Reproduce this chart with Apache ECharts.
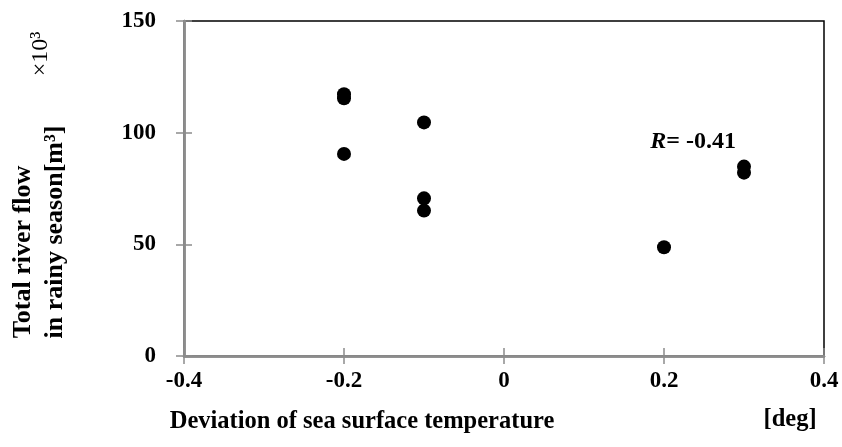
<!DOCTYPE html>
<html>
<head>
<meta charset="utf-8">
<script src="https://cdn.jsdelivr.net/npm/echarts@6/dist/echarts.min.js"></script>
<style>
  html, body { margin: 0; padding: 0; background: #fff; }
  #chart { width: 842px; height: 447px; }
</style>
</head>
<body>
<div id="chart"></div>
<script>
// 数据
var sstDev = [-0.2, -0.2, -0.2, -0.1, -0.1, -0.1, 0.2, 0.3, 0.3];
var riverFlow = [117.2, 115.4, 90.5, 104.6, 70.6, 65.1, 48.7, 84.8, 82.1];
var xTicks = [-0.4, -0.2, 0, 0.2, 0.4];
var yTicks = [0, 50, 100, 150];
var rText = '-0.41';

var chart = echarts.init(document.getElementById('chart'));
var font = 'Liberation Serif';
var axisGray = '#8c8c8c';

var points = sstDev.map(function (x, i) { return [x, riverFlow[i]]; });

// 坐标轴公共样式（内外两条叠加，刻度线穿过轴线）
function xAx(inside, showLabel) {
    return {
        type: 'value', min: xTicks[0], max: xTicks[xTicks.length - 1], interval: 0.2,
        position: 'bottom',
        axisLine: { show: true, onZero: false, lineStyle: { color: axisGray, width: 2.5 } },
        axisTick: { show: true, inside: inside, length: 8, lineStyle: { color: axisGray, width: 1.5 } },
        axisLabel: {
            show: showLabel, margin: 14, color: '#000', fontFamily: font, fontWeight: 'bold', fontSize: 23,
            formatter: function (v) { return String(Math.round(v * 10) / 10); }
        },
        splitLine: { show: false }
    };
}
function yAx(inside, showLabel) {
    return {
        type: 'value', min: yTicks[0], max: yTicks[yTicks.length - 1], interval: 50,
        position: 'left',
        axisLine: { show: true, onZero: false, lineStyle: { color: axisGray, width: 2.5 } },
        axisTick: { show: true, inside: inside, length: 8, lineStyle: { color: axisGray, width: 1.5 } },
        axisLabel: { show: showLabel, margin: 28, color: '#000', fontFamily: font, fontWeight: 'bold', fontSize: 23 },
        splitLine: { show: false }
    };
}

var option = {
    backgroundColor: '#fff',
    animation: false,
    grid: {
        left: 184, right: 18, top: 21, bottom: 91,
        show: true, borderColor: '#000', borderWidth: 1.5
    },
    xAxis: [xAx(false, true), xAx(true, false)],
    yAxis: [yAx(false, true), yAx(true, false)],
    series: [{
        type: 'scatter',
        symbol: 'circle',
        symbolSize: 14,
        itemStyle: { color: '#000', opacity: 1 },
        data: points
    }],
    graphic: [
        {
            type: 'text', x: 23, y: 252, rotation: Math.PI / 2,
            style: {
                text: 'Total river flow', fill: '#000', font: 'bold 26px "Liberation Serif"',
                align: 'center', verticalAlign: 'middle'
            }
        },
        {
            type: 'text', x: 55, y: 232, rotation: Math.PI / 2,
            style: {
                text: 'in rainy season[m³]', fill: '#000', font: 'bold 26px "Liberation Serif"',
                align: 'center', verticalAlign: 'middle'
            }
        },
        {
            type: 'text', x: 41, y: 54, rotation: Math.PI / 2,
            style: {
                text: '×10³', fill: '#000', font: '24px "Liberation Serif"',
                align: 'center', verticalAlign: 'middle'
            }
        },
        {
            type: 'text', x: 362, y: 422,
            style: {
                text: 'Deviation of sea surface temperature', fill: '#000', font: 'bold 24.5px "Liberation Serif"',
                align: 'center', verticalAlign: 'middle'
            }
        },
        {
            type: 'text', x: 790, y: 420,
            style: {
                text: '[deg]', fill: '#000', font: 'bold 24.5px "Liberation Serif"',
                align: 'center', verticalAlign: 'middle'
            }
        },
        {
            type: 'text', x: 736, y: 142,
            style: {
                text: '{i|R}{n|= ' + rText + '}',
                align: 'right',
                verticalAlign: 'middle',
                rich: {
                    i: { fontFamily: font, fontWeight: 'bold', fontStyle: 'italic', fontSize: 24, fill: '#000' },
                    n: { fontFamily: font, fontWeight: 'bold', fontSize: 24, fill: '#000' }
                }
            }
        }
    ]
};
chart.setOption(option);
</script>
</body>
</html>
